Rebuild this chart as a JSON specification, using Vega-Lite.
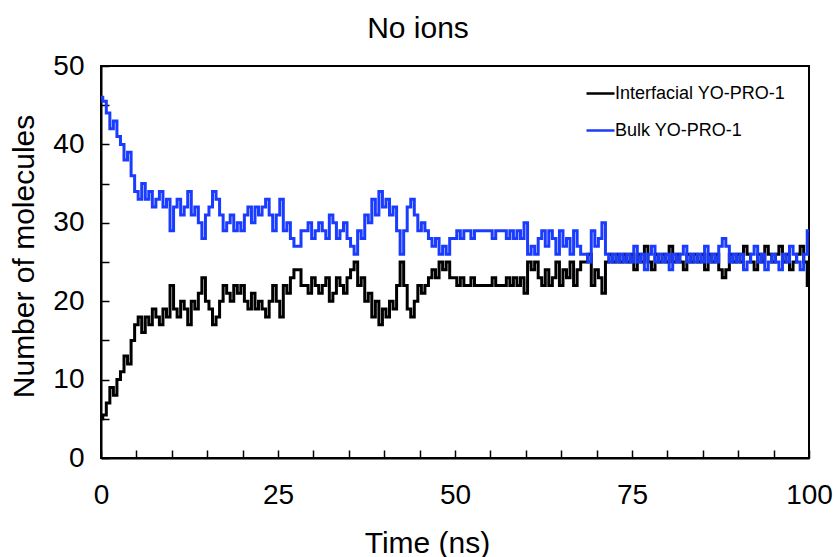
{
"$schema": "https://vega.github.io/schema/vega-lite/v6.json",
"autosize": {"type": "none"},
"padding": {"left": 101, "top": 66, "right": 27, "bottom": 99},
"width": 708,
"height": 392,
"background": "white",
"title": {"text": "No ions", "fontSize": 30, "fontWeight": "normal", "font": "Liberation Sans", "color": "black", "anchor": "middle", "dx": -37, "baseline": "alphabetic", "offset": -16},
"config": {"view": {"stroke": "black", "strokeWidth": 2}, "font": "Liberation Sans"},
"data": {"values": [
{"t":0,"I":5,"B":46},{"t":0.5,"I":5.5,"B":45.5},{"t":1,"I":7,"B":44},{"t":1.5,"I":9,"B":42},{"t":2,"I":8,"B":43},{"t":2.5,"I":10,"B":41},{"t":3,"I":11,"B":40},{"t":3.5,"I":13,"B":38},{"t":4,"I":12,"B":39},{"t":4.5,"I":15,"B":36},
{"t":5,"I":17,"B":34},{"t":5.5,"I":18,"B":33},{"t":6,"I":16,"B":35},{"t":6.5,"I":18,"B":33},{"t":7,"I":17,"B":34},{"t":7.5,"I":19,"B":32},{"t":8,"I":18,"B":33},{"t":8.5,"I":17,"B":34},{"t":9,"I":19,"B":32},{"t":9.5,"I":18,"B":33},
{"t":10,"I":22,"B":29},{"t":10.5,"I":19,"B":32},{"t":11,"I":18,"B":33},{"t":11.5,"I":20,"B":31},{"t":12,"I":19,"B":32},{"t":12.5,"I":17,"B":34},{"t":13,"I":20,"B":31},{"t":13.5,"I":19,"B":32},{"t":14,"I":21,"B":30},{"t":14.5,"I":23,"B":28},
{"t":15,"I":20,"B":31},{"t":15.5,"I":19,"B":32},{"t":16,"I":17,"B":34},{"t":16.5,"I":18,"B":33},{"t":17,"I":20,"B":31},{"t":17.5,"I":22,"B":29},{"t":18,"I":21,"B":30},{"t":18.5,"I":20,"B":31},{"t":19,"I":22,"B":29},{"t":19.5,"I":21,"B":30},
{"t":20,"I":22,"B":29},{"t":20.5,"I":20,"B":31},{"t":21,"I":19,"B":32},{"t":21.5,"I":21,"B":30},{"t":22,"I":19,"B":32},{"t":22.5,"I":20,"B":31},{"t":23,"I":19,"B":32},{"t":23.5,"I":18,"B":33},{"t":24,"I":20,"B":31},{"t":24.5,"I":22,"B":29},
{"t":25,"I":20,"B":31},{"t":25.5,"I":18,"B":33},{"t":26,"I":22,"B":29},{"t":26.5,"I":21,"B":30},{"t":27,"I":23,"B":28},{"t":27.5,"I":24,"B":27},{"t":28,"I":24,"B":27},{"t":28.5,"I":22,"B":29},{"t":29,"I":22,"B":29},{"t":29.5,"I":21,"B":30},
{"t":30,"I":23,"B":28},{"t":30.5,"I":22,"B":29},{"t":31,"I":21,"B":30},{"t":31.5,"I":22,"B":29},{"t":32,"I":23,"B":28},{"t":32.5,"I":20,"B":31},{"t":33,"I":21,"B":30},{"t":33.5,"I":23,"B":28},{"t":34,"I":22,"B":29},{"t":34.5,"I":21,"B":30},
{"t":35,"I":23,"B":28},{"t":35.5,"I":24,"B":27},{"t":36,"I":25,"B":26},{"t":36.5,"I":22,"B":29},{"t":37,"I":23,"B":28},{"t":37.5,"I":20,"B":31},{"t":38,"I":21,"B":30},{"t":38.5,"I":18,"B":33},{"t":39,"I":20,"B":31},{"t":39.5,"I":17,"B":34},
{"t":40,"I":19,"B":32},{"t":40.5,"I":18,"B":33},{"t":41,"I":20,"B":31},{"t":41.5,"I":19,"B":32},{"t":42,"I":22,"B":29},{"t":42.5,"I":25,"B":26},{"t":43,"I":22,"B":29},{"t":43.5,"I":19,"B":32},{"t":44,"I":18,"B":33},{"t":44.5,"I":20,"B":31},
{"t":45,"I":22,"B":29},{"t":45.5,"I":21,"B":30},{"t":46,"I":22,"B":29},{"t":46.5,"I":23,"B":28},{"t":47,"I":24,"B":27},{"t":47.5,"I":23,"B":28},{"t":48,"I":25,"B":26},{"t":48.5,"I":24,"B":27},{"t":49,"I":25,"B":26},{"t":49.5,"I":23,"B":28},
{"t":50,"I":23,"B":28},{"t":50.5,"I":22,"B":29},{"t":51,"I":23,"B":28},{"t":51.5,"I":22,"B":29},{"t":52,"I":22,"B":29},{"t":52.5,"I":23,"B":28},{"t":53,"I":22,"B":29},{"t":53.5,"I":22,"B":29},{"t":54,"I":22,"B":29},{"t":54.5,"I":22,"B":29},
{"t":55,"I":22,"B":29},{"t":55.5,"I":23,"B":28},{"t":56,"I":22,"B":29},{"t":56.5,"I":22,"B":29},{"t":57,"I":22,"B":29},{"t":57.5,"I":23,"B":28},{"t":58,"I":22,"B":29},{"t":58.5,"I":23,"B":28},{"t":59,"I":22,"B":29},{"t":59.5,"I":23,"B":28},
{"t":60,"I":21,"B":30},{"t":60.5,"I":25,"B":26},{"t":61,"I":24,"B":27},{"t":61.5,"I":25,"B":26},{"t":62,"I":23,"B":28},{"t":62.5,"I":22,"B":29},{"t":63,"I":24,"B":27},{"t":63.5,"I":22,"B":29},{"t":64,"I":23,"B":28},{"t":64.5,"I":25,"B":26},
{"t":65,"I":22,"B":29},{"t":65.5,"I":24,"B":27},{"t":66,"I":23,"B":28},{"t":66.5,"I":25,"B":26},{"t":67,"I":22,"B":29},{"t":67.5,"I":24,"B":27},{"t":68,"I":25,"B":26},{"t":68.5,"I":25,"B":26},{"t":69,"I":26,"B":25},{"t":69.5,"I":22,"B":29},
{"t":70,"I":24,"B":27},{"t":70.5,"I":23,"B":28},{"t":71,"I":21,"B":30},{"t":71.5,"I":25,"B":26},{"t":72,"I":26,"B":25},{"t":72.5,"I":25,"B":26},{"t":73,"I":26,"B":25},{"t":73.5,"I":25,"B":26},{"t":74,"I":26,"B":25},{"t":74.5,"I":25,"B":26},
{"t":75,"I":26,"B":25},{"t":75.5,"I":24,"B":27},{"t":76,"I":26,"B":25},{"t":76.5,"I":25,"B":26},{"t":77,"I":27,"B":24},{"t":77.5,"I":25,"B":26},{"t":78,"I":24,"B":27},{"t":78.5,"I":26,"B":25},{"t":79,"I":25,"B":26},{"t":79.5,"I":26,"B":25},
{"t":80,"I":25,"B":26},{"t":80.5,"I":27,"B":24},{"t":81,"I":25,"B":26},{"t":81.5,"I":26,"B":25},{"t":82,"I":25,"B":26},{"t":82.5,"I":24,"B":27},{"t":83,"I":26,"B":25},{"t":83.5,"I":25,"B":26},{"t":84,"I":26,"B":25},{"t":84.5,"I":25,"B":26},
{"t":85,"I":26,"B":25},{"t":85.5,"I":24,"B":27},{"t":86,"I":26,"B":25},{"t":86.5,"I":25,"B":26},{"t":87,"I":26,"B":25},{"t":87.5,"I":24,"B":27},{"t":88,"I":23,"B":28},{"t":88.5,"I":24,"B":27},{"t":89,"I":26,"B":25},{"t":89.5,"I":25,"B":26},
{"t":90,"I":26,"B":25},{"t":90.5,"I":25,"B":26},{"t":91,"I":27,"B":24},{"t":91.5,"I":26,"B":25},{"t":92,"I":25,"B":26},{"t":92.5,"I":24,"B":27},{"t":93,"I":26,"B":25},{"t":93.5,"I":25,"B":26},{"t":94,"I":27,"B":24},{"t":94.5,"I":26,"B":25},
{"t":95,"I":25,"B":26},{"t":95.5,"I":26,"B":25},{"t":96,"I":27,"B":24},{"t":96.5,"I":25,"B":26},{"t":97,"I":26,"B":25},{"t":97.5,"I":24,"B":27},{"t":98,"I":25,"B":26},{"t":98.5,"I":26,"B":25},{"t":99,"I":27,"B":24},{"t":99.5,"I":25,"B":26},
{"t":100,"I":22,"B":29}
]},
"transform": [{"fold": ["I", "B"], "as": ["series", "n"]}],
"mark": {"type": "line", "strokeWidth": 3, "interpolate": "step", "clip": true},
"encoding": {
  "x": {"field": "t", "type": "quantitative", "scale": {"domain": [0, 100], "nice": false},
    "axis": {"title": "Time (ns)", "values": [0,5,10,15,20,25,30,35,40,45,50,55,60,65,70,75,80,85,90,95,100],
      "labelExpr": "datum.value % 25 === 0 ? datum.label : ''", "tickSize": -8, "tickWidth": 1.5, "tickColor": "black",
      "domainColor": "black", "domainWidth": 2, "grid": false, "labelFontSize": 28, "labelColor": "black", "labelPadding": 31,
      "labelFlush": false, "labelOverlap": false, "titleFontSize": 30, "titleFontWeight": "normal", "titleColor": "black", "titlePadding": 19, "titleX": 326}},
  "y": {"field": "n", "type": "quantitative", "scale": {"domain": [0, 50], "nice": false},
    "axis": {"title": "Number of molecules", "values": [0,5,10,15,20,25,30,35,40,45,50],
      "labelExpr": "datum.value % 10 === 0 ? datum.label : ''", "tickSize": -8, "tickWidth": 1.5, "tickColor": "black",
      "domainColor": "black", "domainWidth": 2, "grid": false, "labelFontSize": 28, "labelColor": "black", "labelPadding": 25,
      "labelFlush": false, "labelOverlap": false, "titleFontSize": 30, "titleFontWeight": "normal", "titleColor": "black", "titlePadding": 13, "titleY": 190}},
  "color": {"field": "series", "type": "nominal", "scale": {"domain": ["I", "B"], "range": ["#000000", "#1a3cff"]},
    "legend": {"orient": "none", "legendX": 484, "legendY": 12, "title": null, "symbolType": "stroke", "symbolSize": 784,
      "symbolStrokeWidth": 2.5, "labelFontSize": 18, "labelColor": "black", "labelOffset": -1, "labelLimit": 400, "rowPadding": 12, "padding": 0,
      "labelExpr": "datum.label == 'I' ? 'Interfacial YO-PRO-1' : 'Bulk YO-PRO-1'"}}
}
}
